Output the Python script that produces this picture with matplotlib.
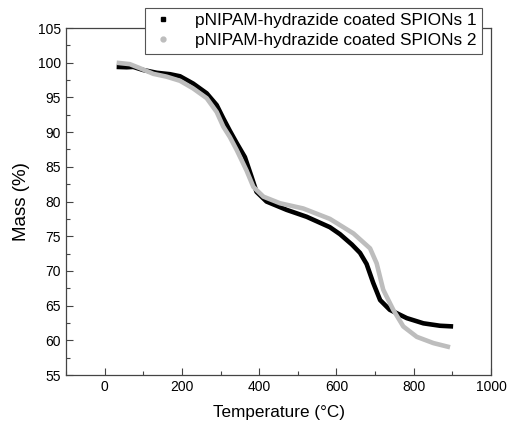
import matplotlib.pyplot as plt
from matplotlib.ticker import MultipleLocator

plt.rcParams["font.family"] = ["Liberation Sans", "DejaVu Sans"]

# TGA curves (temperature in °C, mass in %)
temp_1 = [31, 57, 74, 100, 135, 169, 195, 229, 264, 290, 307, 324, 342, 363,
          380, 393, 419, 471, 523, 583, 609, 640, 661, 678, 695, 713, 738,
          782, 825, 868, 902]
mass_1 = [99.4, 99.35, 99.4, 98.95, 98.55, 98.35, 98.05, 97.0, 95.6, 93.9,
          92.0, 90.2, 88.4, 86.4, 83.6, 81.4, 80.0, 78.8, 77.8, 76.3, 75.3,
          73.8, 72.6, 71.0, 68.3, 65.8, 64.4, 63.2, 62.45, 62.1, 62.0]

temp_2 = [31, 65, 92, 126, 160, 195, 229, 264, 290, 307, 324, 342, 367, 385,
          411, 454, 514, 583, 644, 687, 704, 721, 747, 773, 808, 851, 894]
mass_2 = [100.0, 99.8, 99.2, 98.4, 98.0, 97.4, 96.3, 94.9, 92.9, 90.8, 89.3,
          87.4, 84.5, 82.1, 80.7, 79.75, 79.0, 77.5, 75.4, 73.25, 71.1, 67.3,
          64.4, 62.0, 60.5, 59.6, 59.0]

label_1 = "pNIPAM-hydrazide coated SPIONs 1"
label_2 = "pNIPAM-hydrazide coated SPIONs 2"

fig = plt.figure(figsize=(5.08, 4.25), dpi=100)
ax = fig.add_axes([0.130, 0.1176, 0.8365, 0.8164])

ax.plot(temp_1, mass_1, color="black", lw=3.3, solid_capstyle="butt",
        solid_joinstyle="round", zorder=2)
ax.plot(temp_2, mass_2, color="#bdbdbd", lw=3.3, solid_capstyle="butt",
        solid_joinstyle="round", zorder=3)

# proxies pour la légende (petits symboles comme dans l'original)
h1, = ax.plot([], [], ls="none", marker="s", ms=3.5, color="black")
h2, = ax.plot([], [], ls="none", marker="o", ms=3.5, color="#bdbdbd")
leg = ax.legend([h1, h2], [label_1, label_2], loc="upper right",
                bbox_to_anchor=(0.979, 1.058), fontsize=12.4, frameon=True,
                fancybox=False, edgecolor="#555555", framealpha=1,
                borderpad=0.3, labelspacing=0.3, handletextpad=1.2,
                handlelength=1.4, borderaxespad=0)
leg.get_frame().set_linewidth(0.8)
leg.set_zorder(5)

ax.set_xlim(-100, 1000)
ax.set_ylim(55, 105)
ax.xaxis.set_major_locator(MultipleLocator(200))
ax.xaxis.set_minor_locator(MultipleLocator(100))
ax.yaxis.set_major_locator(MultipleLocator(5))
ax.yaxis.set_minor_locator(MultipleLocator(2.5))
ax.tick_params(which="both", direction="in", labelsize=10, width=0.8,
               color="#444444")
ax.tick_params(which="major", length=5)
ax.tick_params(which="minor", length=3)
for sp in ax.spines.values():
    sp.set_linewidth(0.9)
    sp.set_color("#444444")

ax.set_xlabel("Temperature (°C)", fontsize=12.3, labelpad=8)
ax.set_ylabel("Mass (%)", fontsize=13.5, labelpad=6)

fig.savefig("out.png", dpi=100)
